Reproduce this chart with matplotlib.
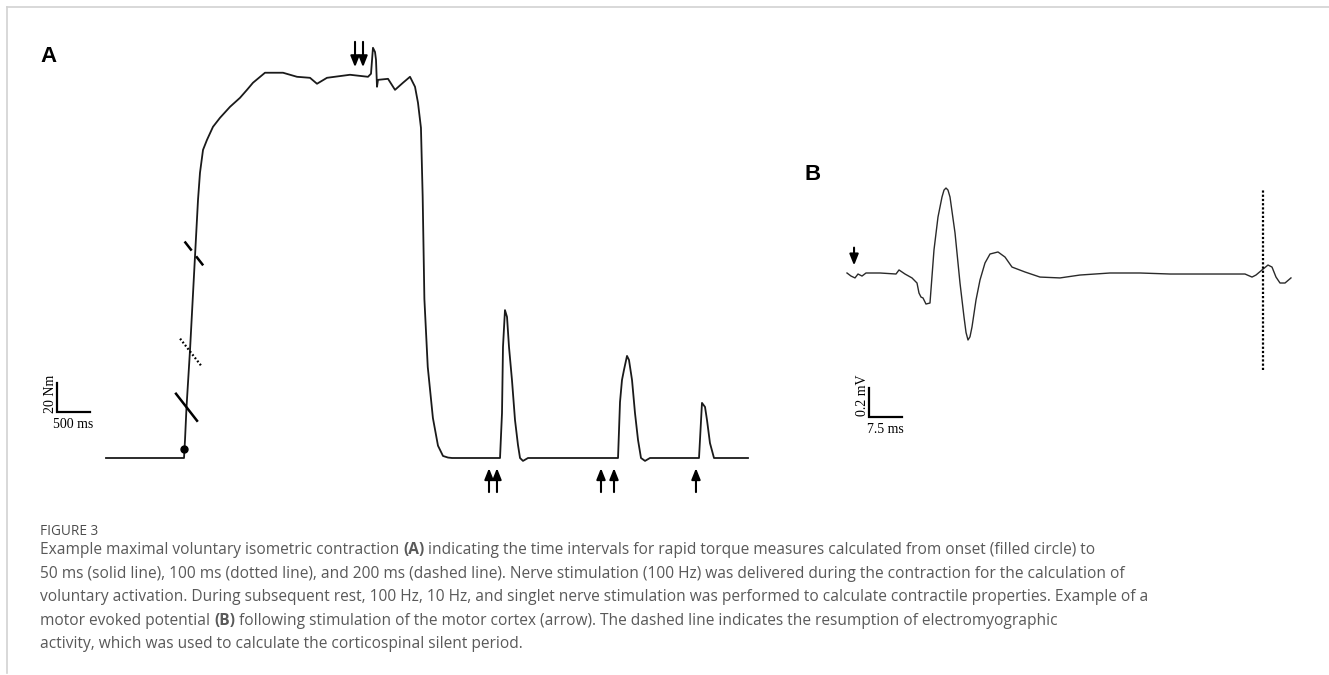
import numpy as np
import matplotlib
matplotlib.use("Agg")
import matplotlib.pyplot as plt
from matplotlib.lines import Line2D

W, H = 1329, 675

# Panel A: knee-extensor torque during an MVIC and the rest stimulations
torque_t = [0, 1182, 1197, 1220, 1273, 1348, 1394, 1424, 1470, 1530, 1621, 1727, 1879,
            2030, 2136, 2227, 2409, 2682, 2894, 3091, 3197, 3348, 3697, 3970, 4015,
            4045, 4076, 4091, 4106, 4121, 4273, 4379, 4500, 4606, 4682, 4727, 4772,
            4798, 4824, 4875, 4953, 5030, 5106, 5182, 5242, 5970, 6000, 6015, 6045,
            6076, 6106, 6151, 6197, 6242, 6273, 6318, 6394, 7758, 7788, 7818, 7848,
            7894, 7924, 7970, 8015, 8061, 8106, 8167, 8242, 8985, 9030, 9076, 9106,
            9151, 9212, 9727]
torque_nm = [0, 0, 12.4, 35.2, 74.5, 138.7, 178, 196.7, 212.5, 219.4, 228.4, 234.6, 242.2,
             248.4, 253.9, 258.8, 265.7, 265.7, 262.9, 262.2, 258.1, 262.2, 264.3, 262.9, 265,
             282.9, 280, 274.6, 256, 260.8, 261.5, 253.9, 258.8, 262.9, 256, 245, 227.7,
             180.4, 109.7, 62.8, 27.6, 8.5, 1.4, 0.3, 0, 0, 31, 76.6, 102,
             97.3, 76.6, 53.8, 26.2, 9, 0, -2, 0, 0, 38.6, 53.8, 60.7,
             70.4, 67.6, 53.8, 31, 12.4, 0, -2, 0, 0, 38, 35.2, 26.2,
             10.3, 0, 0]
onset = (1185, 6)
# torque at 50, 100 and 200 ms after onset
rtd_t = [1220, 1282, 1350]
rtd_nm = [35, 73, 140]
rtd_style = ["solid", "dotted", "dashed"]
# superimposed doublet during MVIC, then 100 Hz, 10 Hz and singlet at rest
mvic_stim_t = [3773, 3894]
rest_stim_t = [5803, 5924, 7500, 7697, 8939]

# Panel B: motor evoked potential and silent period
mep_t = [0, 0.91, 1.82, 2.5, 3.41, 4.32, 7.5, 11.14, 11.82, 13.18, 14.77, 15.91, 16.36,
         16.82, 17.27, 17.95, 18.86, 19.77, 20.68, 21.59, 22.05, 22.5, 22.95, 23.41, 24.55,
         25.68, 26.59, 27.05, 27.5, 27.95, 28.41, 29.32, 30.23, 31.36, 32.5, 34.32, 35.91,
         37.5, 40.45, 43.86, 48.41, 52.95, 59.77, 66.59, 73.41, 90.45, 92.05, 92.95,
         94.32, 95.68, 96.59, 97.5, 98.41, 99.55, 100.9]
mep_mv = [0, -0.021, -0.034, -0.007, -0.021, 0, 0, -0.007, 0.021, -0.007, -0.034, -0.069, -0.138,
          -0.166, -0.172, -0.214, -0.207, 0.159, 0.386, 0.524, 0.572, 0.586, 0.572, 0.524, 0.276,
          -0.069, -0.303, -0.41, -0.462, -0.44, -0.372, -0.186, -0.048, 0.069, 0.131, 0.145, 0.110,
          0.041, 0.007, -0.028, -0.034, -0.014, 0, 0, -0.007, -0.007, -0.028, -0.014,
          0.021, 0.055, 0.041, -0.028, -0.069, -0.069, -0.034]
tms_t = 1.6
silent_end_t = 94.5

caption_lines = [
    [("Example maximal voluntary isometric contraction", "normal"), ("(A)", "bold"),
     ("indicating the time intervals for rapid torque measures calculated from onset (filled circle) to", "normal")],
    [("50 ms (solid line), 100 ms (dotted line), and 200 ms (dashed line). Nerve stimulation (100 Hz) was delivered during the contraction for the calculation of", "normal")],
    [("voluntary activation. During subsequent rest, 100 Hz, 10 Hz, and singlet nerve stimulation was performed to calculate contractile properties. Example of a", "normal")],
    [("motor evoked potential", "normal"), ("(B)", "bold"),
     ("following stimulation of the motor cortex (arrow). The dashed line indicates the resumption of electromyographic", "normal")],
    [("activity, which was used to calculate the corticospinal silent period.", "normal")],
]

fig = plt.figure(figsize=(W / 100, H / 100), dpi=100)
fig.patch.set_facecolor("white")


def px_axes(x0, y0, x1, y1):
    ax = fig.add_axes([x0 / W, 1 - y1 / H, (x1 - x0) / W, (y1 - y0) / H])
    ax.set_axis_off()
    return ax


def arrow(ax, x, tail, tip, lw=1.5):
    ax.annotate("", xy=(x, tip), xytext=(x, tail),
                arrowprops=dict(arrowstyle="-|>,head_length=0.55,head_width=0.22",
                                lw=lw, color="black", shrinkA=0, shrinkB=0,
                                mutation_scale=12))


# ---- panel A ----
ms_px_a = 500 / 33
nm_px_a = 20 / 29
axA = px_axes(30, 25, 770, 505)
axA.set_xlim((30 - 106) * ms_px_a, (770 - 106) * ms_px_a)
axA.set_ylim((458 - 505) * nm_px_a, (458 - 25) * nm_px_a)
axA.plot(torque_t, torque_nm, color="#1a1a1a", lw=1.3, solid_joinstyle="round")
axA.plot(*onset, "o", color="black", ms=5)

half_t, half_nm = 10.5 * ms_px_a, 13.5 * nm_px_a
for t, nm, ls in zip(rtd_t, rtd_nm, rtd_style):
    kw = dict(color="black", lw=1.8)
    if ls == "dotted":
        kw.update(lw=1.6, dashes=(0.8, 1.0))
    elif ls == "dashed":
        kw.update(dashes=(4.6, 2.9))
    axA.plot([t - half_t, t + half_t], [nm + half_nm, nm - half_nm], **kw)

for t in mvic_stim_t:
    arrow(axA, t, 287, 269.5)
for t in rest_stim_t:
    arrow(axA, t, -23.5, -7)

# scale bar: 20 Nm / 500 ms
sb_t, sb_nm = (57 - 106) * ms_px_a, (458 - 412) * nm_px_a
axA.plot([sb_t, sb_t, sb_t + 500], [sb_nm + 20, sb_nm, sb_nm], color="black", lw=1.6,
         solid_joinstyle="miter")
axA.text(sb_t - 6.5 * ms_px_a, sb_nm - 1, "20 Nm", rotation=90, ha="center", va="bottom",
         family="Liberation Serif", fontsize=10)
axA.text(sb_t + 250, sb_nm - 6 * nm_px_a, "500 ms", ha="center", va="top",
         family="Liberation Serif", fontsize=10)

# ---- panel B ----
ms_px_b = 7.5 / 33
mv_px_b = 0.2 / 29
axB = px_axes(820, 150, 1320, 450)
axB.set_xlim((820 - 847) * ms_px_b, (1320 - 847) * ms_px_b)
axB.set_ylim((273 - 450) * mv_px_b, (273 - 150) * mv_px_b)
axB.plot(mep_t, mep_mv, color="#2a2a2a", lw=1.0, solid_joinstyle="round")
axB.plot([silent_end_t, silent_end_t], [-0.669, 0.579], color="black", lw=1.6,
         dashes=(1.0, 0.9))
arrow(axB, tms_t, 0.175, 0.052, lw=1.5)

sb_t, sb_mv = (869 - 847) * ms_px_b, (273 - 417) * mv_px_b
axB.plot([sb_t, sb_t, sb_t + 7.5], [sb_mv + 0.2, sb_mv, sb_mv], color="black", lw=1.6,
         solid_joinstyle="miter")
axB.text(sb_t - 6 * ms_px_b, sb_mv + 0.005, "0.2 mV", rotation=90, ha="center", va="bottom",
         family="Liberation Serif", fontsize=10)
axB.text(sb_t + 3.75, sb_mv - 6 * mv_px_b, "7.5 ms", ha="center", va="top",
         family="Liberation Serif", fontsize=10)

# ---- panel letters ----
fig.text(40 / W, 1 - 62 / H, "A", family="Liberation Sans", fontweight="bold", fontsize=16)
fig.text(805 / W, 1 - 180 / H, "B", family="Liberation Sans", fontweight="bold", fontsize=16)

# ---- frame ----
fig.add_artist(Line2D([7 / W, 1], [1 - 7 / H, 1 - 7 / H], color="#d2d2d2", lw=1.2))
fig.add_artist(Line2D([7 / W, 7 / W], [1 - 7 / H, 1 - 673 / H], color="#d2d2d2", lw=1.2))

# ---- caption ----
cap_kw = dict(family="Open Sans", color="#595959")
fig.text(40 / W, 1 - 535 / H, "FIGURE 3", fontsize=9.8, va="baseline",
         family="Open Sans", color="#4d4d4d")

renderer = fig.canvas.get_renderer()
cap_size = 11.2


def text_width(s, weight):
    t = fig.text(0, 0, s, fontsize=cap_size, fontweight=weight, **cap_kw)
    w = t.get_window_extent(renderer).width
    t.remove()
    return w


space_w = text_width("x x", "normal") - text_width("xx", "normal")
for i, runs in enumerate(caption_lines):
    x = 40
    y = 554 + i * 23.6
    for s, weight in runs:
        t = fig.text(x / W, 1 - y / H, s, fontsize=cap_size, fontweight=weight,
                     va="baseline", **cap_kw)
        x += t.get_window_extent(renderer).width + space_w

fig.savefig("out.png", dpi=100, facecolor="white")
